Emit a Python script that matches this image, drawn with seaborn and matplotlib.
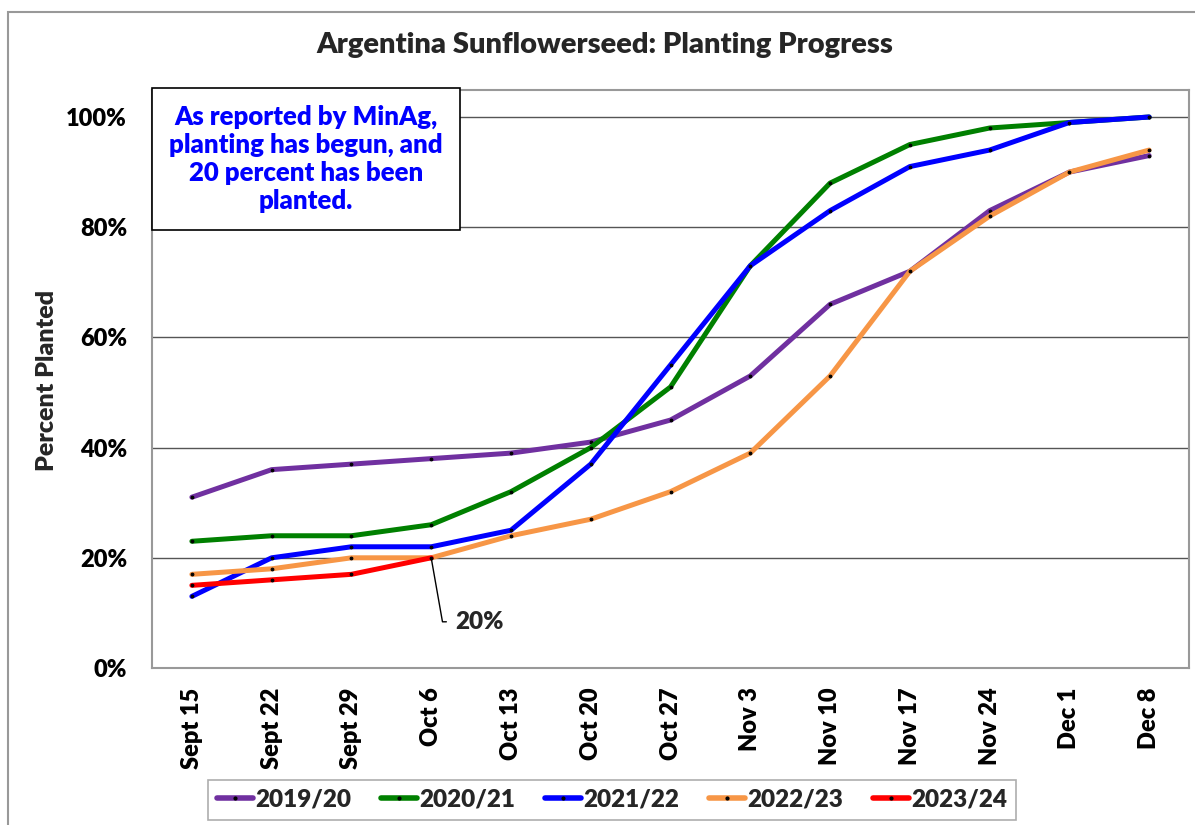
import matplotlib
matplotlib.use("Agg")
import matplotlib.pyplot as plt
from matplotlib.patches import Rectangle
from matplotlib.lines import Line2D
from matplotlib.ticker import FuncFormatter
import seaborn as sns
import pandas as pd

weeks = ["Sept 15", "Sept 22", "Sept 29", "Oct 6", "Oct 13", "Oct 20", "Oct 27",
         "Nov 3", "Nov 10", "Nov 17", "Nov 24", "Dec 1", "Dec 8"]
s2019 = [31, 36, 37, 38, 39, 41, 45, 53, 66, 72, 83, 90, 93]
s2020 = [23, 24, 24, 26, 32, 40, 51, 73, 88, 95, 98, 99, 100]
s2021 = [13, 20, 22, 22, 25, 37, 55, 73, 83, 91, 94, 99, 100]
s2022 = [17, 18, 20, 20, 24, 27, 32, 39, 53, 72, 82, 90, 94]
s2023 = [15, 16, 17, 20]
season_names = ["2019/20", "2020/21", "2021/22", "2022/23", "2023/24"]
colors = ["#7030A0", "#008000", "#0000FF", "#F79646", "#FF0000"]

series = [s2019, s2020, s2021, s2022, s2023]
rows = []
for name, vals in zip(season_names, series):
    for w, v in zip(weeks, vals):
        rows.append({"week": w, "pct": v / 100.0, "season": name})
df = pd.DataFrame(rows)

W = "heavy"
sns.set_theme(style="white")
plt.rcParams["font.family"] = ["Lato", "DejaVu Sans"]
plt.rcParams["font.weight"] = W

fig = plt.figure(figsize=(11.95, 8.25), dpi=100)
ax = fig.add_axes([152/1195, 1-668/825, (1189-152)/1195, (668-90)/825])

sns.lineplot(data=df, x="week", y="pct", hue="season", palette=colors,
             hue_order=season_names, sort=False, ax=ax, linewidth=3.6,
             marker="o", markersize=2.0, markerfacecolor="black",
             markeredgecolor="black", legend=False)

ax.set_xlim(-0.5, len(weeks) - 0.5)
ax.set_ylim(0, 1.049)
ax.set_yticks([0, 0.2, 0.4, 0.6, 0.8, 1.0])
ax.yaxis.set_major_formatter(FuncFormatter(lambda v, p: f"{v*100:.0f}%"))
ax.grid(axis="y", color="#555555", linewidth=1.0)
ax.grid(axis="x", visible=False)
ax.set_axisbelow(True)
for sp in ax.spines.values():
    sp.set_color("#999999")
    sp.set_linewidth(1.5)
ax.tick_params(axis="both", length=0)
ax.tick_params(axis="y", pad=18, labelsize=17, labelcolor="black")
for lbl in ax.get_yticklabels():
    lbl.set_fontweight(W)
ax.set_xticks(range(len(weeks)))
ax.set_xticklabels(weeks, rotation=90, fontsize=17, fontweight=W,
                   color="black")
ax.tick_params(axis="x", pad=14)
ax.set_xlabel("")
ax.set_ylabel("")

fig.text(47/1195, 1-380/825, "Percent Planted", rotation=90, ha="center",
         va="center", fontsize=18, fontweight=W)
fig.text(605/1195, 1-45/825, "Argentina Sunflowerseed: Planting Progress",
         ha="center", va="center", fontsize=21, fontweight=W)

# outer chart border
fig.patches.append(Rectangle((8/1195, -0.1), 1.2, 1-12/825+0.1, transform=fig.transFigure,
                             fill=False, edgecolor="#999999", linewidth=1.5))

# annotation box
fig.patches.append(Rectangle((152/1195, 1-230/825), 308/1195, 142/825,
                             transform=fig.transFigure, facecolor="white",
                             edgecolor="black", linewidth=1.2, zorder=5))
fig.text(306/1195, 1-159/825,
         "As reported by MinAg,\nplanting has begun, and\n20 percent has been\nplanted.",
         ha="center", va="center", color="#0000FF", fontsize=18.5,
         fontweight=W, linespacing=1.2, zorder=6)

ax.annotate("20%", xy=(3, s2023[3] / 100.0), xytext=(24, -64),
            textcoords="offset pixels", ha="left", va="center",
            fontsize=17.5, fontweight=W,
            arrowprops=dict(arrowstyle="-", color="black", linewidth=1.0,
                            connectionstyle="angle,angleA=0,angleB=-80,rad=0",
                            relpos=(0, 0.5), shrinkA=4, shrinkB=0))

handles = [Line2D([0], [0], color=c, linewidth=4, marker="o", markersize=2.0,
                  markerfacecolor="black", markeredgecolor="black")
           for c in colors]
leg = fig.legend(handles, season_names, loc="center", ncol=5,
                 bbox_to_anchor=(612/1195, 1-800/825), frameon=True,
                 fancybox=False, edgecolor="#999999", fontsize=17.5,
                 handlelength=1.5, handletextpad=0.1, columnspacing=1.2,
                 borderpad=0.35)
leg.get_frame().set_linewidth(1.2)
for t in leg.get_texts():
    t.set_fontweight(W)

fig.savefig("out.png", dpi=100)
